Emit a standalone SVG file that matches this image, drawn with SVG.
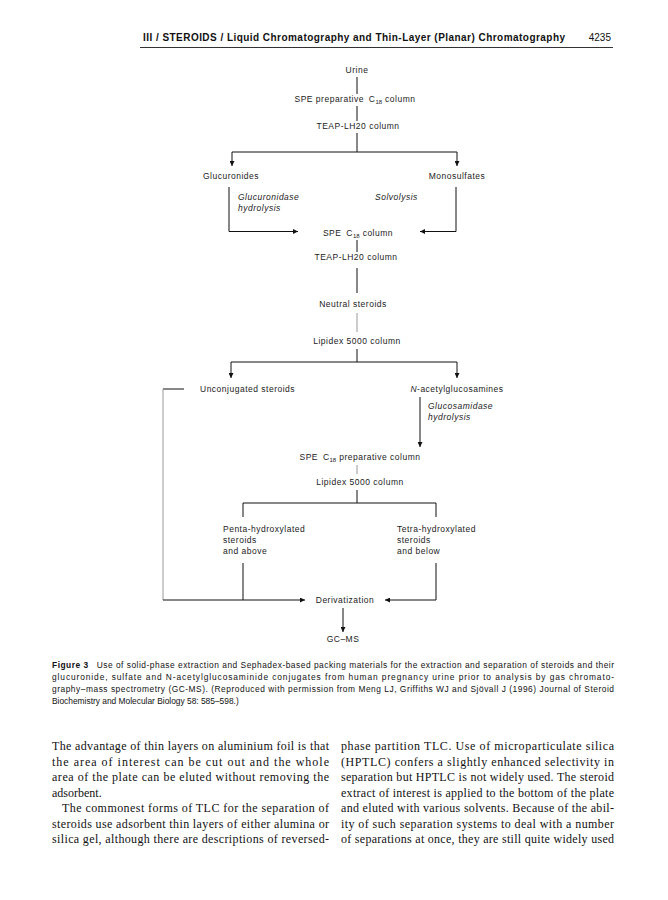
<svg xmlns="http://www.w3.org/2000/svg" width="668" height="900" viewBox="0 0 668 900">
<defs>
<style>
.t{font-family:"Liberation Sans",Arial,sans-serif;font-size:8.5px;letter-spacing:0.5px;fill:#222}
.m{text-anchor:middle}
.i{font-style:italic}
.sub{font-size:6px;letter-spacing:0}
.ln{stroke:#111;stroke-width:1;fill:none}
.gr{stroke:#999;stroke-width:1;fill:none}
.ar{marker-end:url(#ah)}
.cap{font-family:"Liberation Sans",Arial,sans-serif;font-size:8.4px;fill:#111}
.body{font-family:"Liberation Serif","Times New Roman",serif;font-size:12px;fill:#111}
.hd{font-family:"Liberation Sans",Arial,sans-serif;font-size:10px;font-weight:bold;fill:#111}
</style>
<marker id="ah" markerUnits="userSpaceOnUse" markerWidth="5" markerHeight="5" refX="5" refY="2.5" orient="auto">
<path d="M0,0 L5,2.5 L0,5 z" fill="#111"/>
</marker>
</defs>
<rect width="668" height="900" fill="#fff"/>

<g id="header">
<text class="hd" x="143" y="41" textLength="422" lengthAdjust="spacing">III / STEROIDS / Liquid Chromatography and Thin-Layer (Planar) Chromatography</text>
<text class="hd" x="611" y="41" text-anchor="end" font-weight="normal" style="font-weight:normal">4235</text>
<line x1="140" y1="47.5" x2="613" y2="47.5" stroke="#333" stroke-width="1.2"/>
</g>

<g id="connectors">
<line class="ln" x1="357" y1="77" x2="357" y2="94"/>
<line class="ln" x1="357" y1="106" x2="357" y2="121"/>
<path class="ln" d="M357,133 V152 M232,152 H457"/>
<line class="ln ar" x1="232" y1="152" x2="232" y2="166"/>
<line class="ln ar" x1="457" y1="152" x2="457" y2="166"/>
<path class="ln ar" d="M229,187 V231.5 H298"/>
<path class="ln ar" d="M456,187 V231.5 H420"/>
<line class="ln" x1="357" y1="240" x2="357" y2="252"/>
<line class="ln" x1="357" y1="268" x2="357" y2="293"/>
<line class="gr" x1="357" y1="313" x2="357" y2="332"/>
<path class="ln" d="M357,349 V362 M231,362 H457"/>
<line class="ln ar" x1="231" y1="362" x2="231" y2="378"/>
<line class="ln ar" x1="457" y1="362" x2="457" y2="378"/>
<line class="ln" x1="184" y1="389" x2="163" y2="389"/>
<line class="gr" x1="163" y1="389" x2="163" y2="600"/>
<line class="ln ar" x1="163" y1="600" x2="305" y2="600"/>
<line class="ln ar" x1="420" y1="397" x2="420" y2="447"/>
<line class="gr" x1="357" y1="465" x2="357" y2="474"/>
<path class="ln" d="M357,490 V503 M243,517 V503 H436 V517"/>
<line class="ln" x1="243" y1="563" x2="243" y2="600"/>
<path class="ln ar" d="M436,563 V600 H385"/>
<line class="ln ar" x1="343" y1="608" x2="343" y2="632"/>
</g>

<g id="urine"><text class="t m" x="357" y="73">Urine</text></g>
<g id="spe-prep-1"><text class="t m" x="355" y="102">SPE preparative <tspan dx="2">C</tspan><tspan class="sub" dy="2">18</tspan><tspan dy="-2" dx="3">column</tspan></text></g>
<g id="teap-1"><text class="t m" x="358" y="129">TEAP-LH20 column</text></g>
<g id="glucuronides"><text class="t m" x="231" y="179">Glucuronides</text></g>
<g id="monosulfates"><text class="t m" x="457" y="179">Monosulfates</text></g>
<g id="glucuronidase"><text class="t i" x="238" y="200">Glucuronidase</text><text class="t i" x="238" y="211">hydrolysis</text></g>
<g id="solvolysis"><text class="t i" x="375" y="200">Solvolysis</text></g>
<g id="spe-c18"><text class="t m" x="358" y="236">SPE <tspan dx="2">C</tspan><tspan class="sub" dy="2">18</tspan><tspan dy="-2" dx="3">column</tspan></text></g>
<g id="teap-2"><text class="t m" x="356" y="260">TEAP-LH20 column</text></g>
<g id="neutral"><text class="t m" x="353" y="307">Neutral steroids</text></g>
<g id="lipidex-1"><text class="t m" x="357" y="344">Lipidex 5000 column</text></g>
<g id="unconjugated"><text class="t" x="200" y="392">Unconjugated steroids</text></g>
<g id="nacetyl"><text class="t m" x="457" y="392"><tspan class="i">N</tspan>-acetylglucosamines</text></g>
<g id="glucosamidase"><text class="t i" x="428" y="409">Glucosamidase</text><text class="t i" x="428" y="420">hydrolysis</text></g>
<g id="spe-prep-2"><text class="t m" x="360" y="460">SPE <tspan dx="2">C</tspan><tspan class="sub" dy="2">18</tspan><tspan dy="-2" dx="3">preparative column</tspan></text></g>
<g id="lipidex-2"><text class="t m" x="360" y="485">Lipidex 5000 column</text></g>
<g id="penta"><text class="t" x="223" y="532">Penta-hydroxylated</text><text class="t" x="223" y="543">steroids</text><text class="t" x="223" y="554">and above</text></g>
<g id="tetra"><text class="t" x="397" y="532">Tetra-hydroxylated</text><text class="t" x="397" y="543">steroids</text><text class="t" x="397" y="554">and below</text></g>
<g id="derivatization"><text class="t m" x="345" y="603">Derivatization</text></g>
<g id="gcms"><text class="t m" x="343" y="642">GC–MS</text></g>

<g id="caption">
<text class="cap" x="52" y="668" textLength="562" lengthAdjust="spacing"><tspan font-weight="bold">Figure 3</tspan><tspan dx="8">Use of solid-phase extraction and Sephadex-based packing materials for the extraction and separation of steroids and their</tspan></text>
<text class="cap" x="52" y="680" textLength="562" lengthAdjust="spacing">glucuronide, sulfate and N-acetylglucosaminide conjugates from human pregnancy urine prior to analysis by gas chromato-</text>
<text class="cap" x="52" y="692" textLength="562" lengthAdjust="spacing">graphy–mass spectrometry (GC-MS). (Reproduced with permission from Meng LJ, Griffiths WJ and Sjövall J (1996) Journal of Steroid</text>
<text class="cap" x="52" y="704">Biochemistry and Molecular Biology 58: 585–598.)</text>
</g>

<g id="body-left">
<text class="body" x="52" y="750" textLength="277" lengthAdjust="spacing">The advantage of thin layers on aluminium foil is that</text>
<text class="body" x="52" y="765.5" textLength="277" lengthAdjust="spacing">the area of interest can be cut out and the whole</text>
<text class="body" x="52" y="781" textLength="277" lengthAdjust="spacing">area of the plate can be eluted without removing the</text>
<text class="body" x="52" y="796.5">adsorbent.</text>
<text class="body" x="62" y="812" textLength="267" lengthAdjust="spacing">The commonest forms of TLC for the separation of</text>
<text class="body" x="52" y="827.5" textLength="277" lengthAdjust="spacing">steroids use adsorbent thin layers of either alumina or</text>
<text class="body" x="52" y="843" textLength="277" lengthAdjust="spacing">silica gel, although there are descriptions of reversed-</text>
</g>
<g id="body-right">
<text class="body" x="341" y="750" textLength="273" lengthAdjust="spacing">phase partition TLC. Use of microparticulate silica</text>
<text class="body" x="341" y="765.5" textLength="273" lengthAdjust="spacing">(HPTLC) confers a slightly enhanced selectivity in</text>
<text class="body" x="341" y="781" textLength="273" lengthAdjust="spacing">separation but HPTLC is not widely used. The steroid</text>
<text class="body" x="341" y="796.5" textLength="273" lengthAdjust="spacing">extract of interest is applied to the bottom of the plate</text>
<text class="body" x="341" y="812" textLength="273" lengthAdjust="spacing">and eluted with various solvents. Because of the abil-</text>
<text class="body" x="341" y="827.5" textLength="273" lengthAdjust="spacing">ity of such separation systems to deal with a number</text>
<text class="body" x="341" y="843" textLength="273" lengthAdjust="spacing">of separations at once, they are still quite widely used</text>
</g>
</svg>
